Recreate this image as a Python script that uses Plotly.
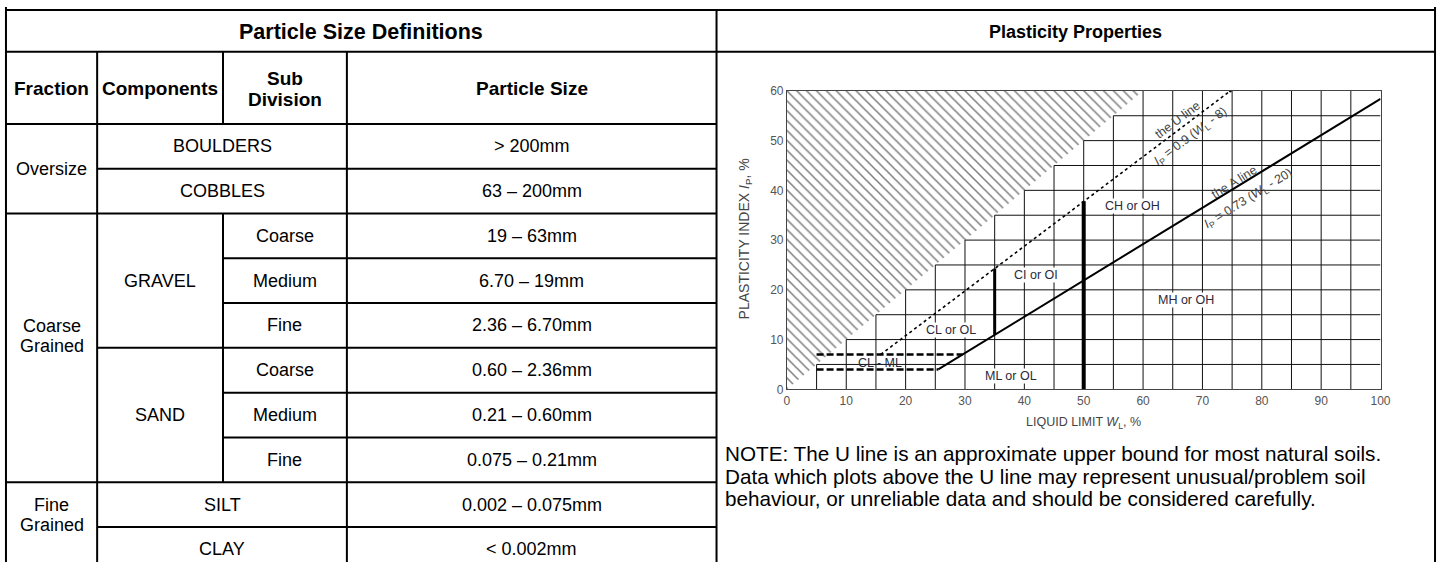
import plotly.graph_objects as go

W, H = 1448, 567
FONT = "Liberation Sans, Arial, sans-serif"

# ---------------- Table data ----------------
table_title = "Particle Size Definitions"
chart_title = "Plasticity Properties"
header_labels = ["Fraction", "Components", "Sub<br>Division", "Particle Size"]
fraction_labels = ["Oversize", "Coarse<br>Grained", "Fine<br>Grained"]
fraction_rows = [2, 6, 2]
component_labels = ["BOULDERS", "COBBLES", "GRAVEL", "SAND", "SILT", "CLAY"]
component_rows = [1, 1, 3, 3, 1, 1]
component_merged = [True, True, False, False, True, True]
sub_labels = ["", "", "Coarse", "Medium", "Fine", "Coarse", "Medium", "Fine", "", ""]
size_labels = ["> 200mm", "63 – 200mm", "19 – 63mm", "6.70 – 19mm", "2.36 – 6.70mm",
               "0.60 – 2.36mm", "0.21 – 0.60mm", "0.075 – 0.21mm", "0.002 – 0.075mm", "< 0.002mm"]
note_lines = ["NOTE: The U line is an approximate upper bound for most natural soils.",
              "Data which plots above the U line may represent unusual/problem soil",
              "behaviour, or unreliable data and should be considered carefully."]

# ---------------- Chart data ----------------
grid_step_vals = [0, 5, 10, 15, 20, 25, 30, 35, 40, 45, 50, 55, 60, 65, 70, 75, 80, 85, 90, 95, 100]
x_ticks = [0, 10, 20, 30, 40, 50, 60, 70, 80, 90, 100]
y_ticks = [0, 10, 20, 30, 40, 50, 60]
hatch_x = [0, 60, 0, 0]
hatch_y = [0, 60, 60, 0]
u_line_x = [15.8, 74.7]
u_line_y = [7.0, 60.0]
a_line_x = [25.5, 100.0]
a_line_y = [4.0, 58.4]
dash_low_x = [5.0, 25.5]
dash_low_y = [4.0, 4.0]
dash_high_x = [5.0, 29.6]
dash_high_y = [7.0, 7.0]
bar35_x = [35.0, 35.0]
bar35_y = [10.95, 24.3]
bar50_x = [50.0, 50.0]
bar50_y = [0.0, 37.8]
zone_labels = ["CL - ML", "CL or OL", "CI or OI", "ML or OL", "CH or OH", "MH or OH"]
zone_x = [15.7, 27.7, 42.0, 37.8, 58.3, 67.3]
zone_y = [5.3, 12.0, 23.0, 2.6, 36.8, 18.0]
zone_masked = [False, True, True, True, True, True]

# ---------------- Layout geometry (pixels) ----------------
col_edges = [3, 95, 222, 347, 720]
right_edge = 1445
top_y, title_bottom, header_bottom, row_h = 3, 46, 120, 45.9
plot_px = (791, 1390)
plot_py = (86, 392)
line_gap = 21


def px(x):
    return x / W


def py(y):
    return 1 - y / H


shapes = []


def hline(x0, x1, y, w=2):
    shapes.append(dict(type="line", xref="paper", yref="paper", x0=px(x0), x1=px(x1),
                       y0=py(y), y1=py(y), line=dict(color="black", width=w)))


def vline(x, y0, y1, w=2):
    shapes.append(dict(type="line", xref="paper", yref="paper", x0=px(x), x1=px(x),
                       y0=py(y0), y1=py(y1), line=dict(color="black", width=w)))


annotations = []


def text(x, y, s, size=18, bold=False, anchor="center", color="black"):
    parts = s.split("<br>")
    n = len(parts)
    for i, part in enumerate(parts):
        yy = y + (i - (n - 1) / 2) * line_gap
        annotations.append(dict(xref="paper", yref="paper", x=px(x), y=py(yy), text=part,
                                showarrow=False, xanchor=anchor, yanchor="middle",
                                font=dict(family=FONT, size=size, color=color,
                                          weight="bold" if bold else "normal")))


# outer frame
vline(col_edges[0], 0, H + 2)
vline(right_edge, 0, H + 2)
vline(col_edges[-1], top_y, H + 2)
hline(col_edges[0], right_edge, top_y)
hline(col_edges[0], right_edge, title_bottom)
hline(col_edges[0], col_edges[-1], header_bottom)
for c in col_edges[1:-1]:
    vline(c, title_bottom, header_bottom)

n_rows = len(size_labels)
row_top = [header_bottom + row_h * k for k in range(n_rows + 1)]

frac_starts = []
r = 0
for span in fraction_rows:
    frac_starts.append(r)
    r += span
comp_starts = []
r = 0
for span in component_rows:
    comp_starts.append(r)
    r += span

for k in range(1, n_rows):
    if k in frac_starts:
        x0 = col_edges[0]
    elif k in comp_starts:
        x0 = col_edges[1]
    else:
        x0 = col_edges[2]
    hline(x0, col_edges[-1], row_top[k])

vline(col_edges[1], header_bottom, H + 2)
vline(col_edges[3], header_bottom, H + 2)
for start, span, merged in zip(comp_starts, component_rows, component_merged):
    if not merged:
        vline(col_edges[2], row_top[start], row_top[start + span])

# texts
text((col_edges[0] + col_edges[-1]) / 2, (top_y + title_bottom) / 2 + 1, table_title, size=21.5, bold=True)
text((col_edges[-1] + right_edge) / 2, (top_y + title_bottom) / 2 + 1, chart_title, size=18, bold=True)
for i, lab in enumerate(header_labels):
    text((col_edges[i] + col_edges[i + 1]) / 2, (title_bottom + header_bottom) / 2 + 1, lab, size=19, bold=True)
for start, span, lab in zip(frac_starts, fraction_rows, fraction_labels):
    yc = (row_top[start] + row_top[start + span]) / 2
    if "<br>" in lab:
        yc -= 12
    text((col_edges[0] + col_edges[1]) / 2, yc, lab)
for start, span, lab, merged in zip(comp_starts, component_rows, component_labels, component_merged):
    yc = (row_top[start] + row_top[start + span]) / 2
    xc = (col_edges[1] + (col_edges[3] if merged else col_edges[2])) / 2
    text(xc, yc, lab)
for k in range(n_rows):
    yc = (row_top[k] + row_top[k + 1]) / 2
    if sub_labels[k]:
        text((col_edges[2] + col_edges[3]) / 2, yc, sub_labels[k])
    text((col_edges[3] + col_edges[4]) / 2, yc, size_labels[k])

for i, line in enumerate(note_lines):
    text(727, 458 + 23.2 * i, line, size=20.7, anchor="left")

# ---------------- Chart ----------------
fig = go.Figure()

fig.add_trace(go.Scatter(x=hatch_x, y=hatch_y, mode="lines", fill="toself",
                         fillcolor="white",
                         fillpattern=dict(shape="\\", fgcolor="#000", bgcolor="white",
                                          size=7, solidity=0.22),
                         line=dict(width=0), hoverinfo="skip", showlegend=False))

gx, gy = [], []
for v in grid_step_vals:
    top = min(v, 60)
    if 0 < v < 100:
        gx += [v, v, None]
        gy += [0, top, None]
    if 0 < v < 60:
        gx += [v, 100, None]
        gy += [v, v, None]
fig.add_trace(go.Scatter(x=gx, y=gy, mode="lines", line=dict(color="#111", width=1),
                         hoverinfo="skip", showlegend=False))

dash_style = dict(color="black", width=2.5, dash="7px,3px")
fig.add_trace(go.Scatter(x=dash_low_x, y=dash_low_y, mode="lines", line=dash_style, showlegend=False))
fig.add_trace(go.Scatter(x=dash_high_x, y=dash_high_y, mode="lines", line=dash_style, showlegend=False))
fig.add_trace(go.Scatter(x=u_line_x, y=u_line_y, mode="lines", line=dict(color="black", width=1.6, dash="dot"),
                         showlegend=False))
fig.add_trace(go.Scatter(x=[u_line_x[-1]], y=[u_line_y[-1]], mode="markers",
                         marker=dict(color="black", size=3), showlegend=False))
fig.add_trace(go.Scatter(x=a_line_x, y=a_line_y, mode="lines", line=dict(color="black", width=2),
                         showlegend=False))
fig.add_trace(go.Scatter(x=bar35_x, y=bar35_y, mode="lines", line=dict(color="black", width=3),
                         showlegend=False))
fig.add_trace(go.Scatter(x=bar50_x, y=bar50_y, mode="lines", line=dict(color="black", width=4),
                         showlegend=False))

for lab, x, y, masked in zip(zone_labels, zone_x, zone_y, zone_masked):
    annotations.append(dict(xref="x", yref="y", x=x, y=y, text=lab, showarrow=False,
                            bgcolor="white" if masked else "rgba(0,0,0,0)", borderpad=0,
                            font=dict(family=FONT, size=12.5, color="#2a2a3a")))

rot = [("the U line", 65.8, 54.2, -37), ("<i>I</i><sub>P</sub> = 0.9 (<i>W</i><sub>L</sub> - 8)", 68.0, 50.8, -37),
       ("the A line", 75.4, 41.6, -32), ("<i>I</i><sub>P</sub> = 0.73 (<i>W</i><sub>L</sub> - 20)", 77.8, 38.2, -32)]
for lab, x, y, ang in rot:
    annotations.append(dict(xref="x", yref="y", x=x, y=y, text=lab, showarrow=False, textangle=ang,
                            font=dict(family=FONT, size=12.5, color="#444")))

annotations.append(dict(xref="x", yref="paper", x=50, y=py(427), xanchor="center", yanchor="middle",
                        text="LIQUID LIMIT <i>W</i><sub>L</sub>, %", showarrow=False,
                        font=dict(family=FONT, size=12.5, color="#444")))
annotations.append(dict(xref="paper", yref="paper", x=px(749), y=py(238), xanchor="center", yanchor="middle",
                        text="PLASTICITY INDEX <i>I</i><sub>P</sub>, %", showarrow=False, textangle=-90,
                        font=dict(family=FONT, size=14, color="#444")))

fig.update_layout(
    width=W, height=H, margin=dict(l=0, r=0, t=0, b=0),
    paper_bgcolor="white", plot_bgcolor="white",
    shapes=shapes, annotations=annotations, showlegend=False,
    xaxis=dict(domain=[px(plot_px[0]), px(plot_px[1])], range=[0, 100], tickvals=x_ticks,
               showgrid=False, zeroline=False, showline=True, mirror=True, linecolor="#444",
               linewidth=1, ticks="", tickfont=dict(family=FONT, size=12, color="#555")),
    yaxis=dict(domain=[py(plot_py[1]), py(plot_py[0])], range=[0, 60], tickvals=y_ticks,
               showgrid=False, zeroline=False, showline=True, mirror=True, linecolor="#444",
               linewidth=1, ticks="", tickfont=dict(family=FONT, size=12, color="#555")),
)

fig.write_html("out.html", config={"displayModeBar": False},
               post_script="document.body.style.margin='0px';document.body.style.overflow='hidden';")
